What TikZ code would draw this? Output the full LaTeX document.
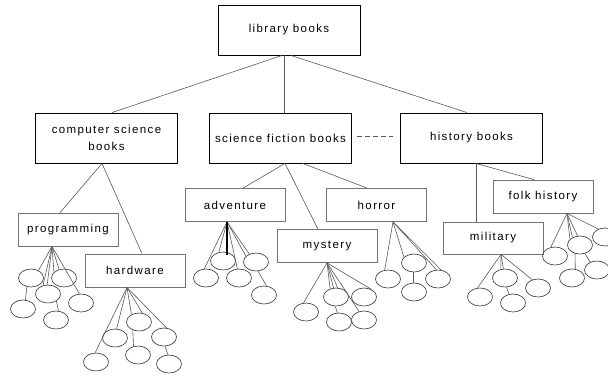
\documentclass[tikz,border=0pt]{standalone}
\usepackage{fontspec}
\setmainfont{Liberation Sans}[LetterSpace=12]
\usetikzlibrary{shapes.geometric}
\begin{document}
\begin{tikzpicture}[x=1pt,y=-1pt,
  topbox/.style={draw=black,line width=0.9pt,minimum width=142pt,minimum height=50pt,
    inner sep=0pt,align=center,font=\fontsize{11.5}{17}\selectfont},
  subbox/.style={draw=black!55,line width=0.8pt,minimum width=100pt,minimum height=33pt,
    inner sep=0pt,font=\fontsize{11.5}{14}\selectfont},
  leaf/.style={ellipse,draw=black!70,line width=0.7pt,minimum width=25pt,minimum height=18pt,inner sep=0pt},
  link/.style={draw=black!65,line width=0.6pt},
  boldlink/.style={draw=black,line width=1.4pt},
]
\useasboundingbox (0,0) rectangle (608,375);

% top level categories
\node[topbox] (lib)  at (289,30)    {library books};
\node[topbox] (cs)   at (106.5,138) {computer science\\books};
\node[topbox] (sf)   at (280.5,138) {science fiction books};
\node[topbox] (hist) at (471.5,138) {history books};

% second level categories
\node[subbox] (prog) at (68,229.5)  {programming};
\node[subbox] (hard) at (135,270.5) {hardware};
\node[subbox] (adv)  at (235,205)   {adventure};
\node[subbox] (myst) at (327,246)   {mystery};
\node[subbox] (horr) at (376.5,205) {horror};
\node[subbox,minimum height=32pt] (mil) at (493,238) {military};
\node[subbox] (folk) at (543,196.5) {folk history};

% individual books
\foreach \n/\p in {e1/{(31,278)},e2/{(64,278)},e3/{(48,294)},e4/{(81,303)},e5/{(23,309)},e6/{(56,320)},
  h1/{(115,338)},h2/{(139,322)},h3/{(164,337)},h4/{(96,362)},h5/{(138,355)},h6/{(169,364)},
  a1/{(206,278)},a2/{(223,261)},a3/{(239,278)},a4/{(256,262)},a5/{(264,295)},
  m1/{(306,312)},m2/{(336,297)},m3/{(364,297)},m4/{(339,322)},m5/{(364,320)},
  r1/{(388,279)},r2/{(414,263)},r3/{(438,279)},r4/{(414,292)},
  y1/{(480,297)},y2/{(505,278)},y3/{(538,288)},y4/{(513,303)},
  f1/{(555,256)},f2/{(580,245)},f3/{(605,237)},f4/{(572,278)},f5/{(597,270)}}
  \node[leaf] (\n) at \p {};

% attachment points on the box edges
\coordinate (lib-l) at ([xshift=-7pt]lib.south);
\coordinate (lib-m) at ([xshift=-5pt]lib.south);
\coordinate (lib-r) at ([xshift=2pt]lib.south);
\coordinate (cs-t)  at ([xshift=5.5pt]cs.north);
\coordinate (sf-t)  at ([xshift=3.5pt]sf.north);
\coordinate (hist-t) at ([xshift=-4.5pt]hist.north);
\coordinate (cs-r)  at ([xshift=-4.5pt]cs.south);
\coordinate (sf-r)  at ([xshift=4.5pt]sf.south);
\coordinate (sf-r2) at ([xshift=22.5pt]sf.south);
\coordinate (hist-r) at ([xshift=4.5pt]hist.south);
\coordinate (prog-t) at ([xshift=-8pt]prog.north);
\coordinate (hard-t) at ([xshift=7pt]hard.north);
\coordinate (adv-t)  at ([xshift=8pt]adv.north);
\coordinate (myst-t) at ([xshift=-9pt]myst.north);
\coordinate (horr-t) at ([xshift=-9.5pt]horr.north);
\coordinate (mil-t)  at ([xshift=-17pt]mil.north);
\coordinate (folk-t) at ([xshift=-9pt]folk.north);
\coordinate (prog-r) at ([xshift=-16pt]prog.south);
\coordinate (hard-r) at ([xshift=-8pt]hard.south);
\coordinate (adv-r)  at ([xshift=-8pt]adv.south);
\coordinate (myst-r) at (myst.south);
\coordinate (horr-r) at ([xshift=16.5pt]horr.south);
\coordinate (mil-r)  at ([xshift=8pt]mil.south);
\coordinate (folk-r) at ([xshift=24pt]folk.south);
\coordinate (a2-in)  at ([xshift=4pt,yshift=-3pt]a2.north);

% hierarchy links
\draw[link] (lib-l) -- (cs-t);
\draw[link] (lib-m) -- (sf-t);
\draw[link] (lib-r) -- (hist-t);
\draw[link] (cs-r) -- (prog-t);
\draw[link] (cs-r) -- (hard-t);
\draw[link] (sf-r) -- (adv-t);
\draw[link] (sf-r) -- (myst-t);
\draw[link] (sf-r2) -- (horr-t);
\draw[link] (hist-r) -- (mil-t);
\draw[link] (hist-r) -- (folk-t);
\draw[link,dashed,dash pattern=on 5pt off 3pt]
  ([xshift=5pt,yshift=2pt]sf.east) -- ([xshift=-7pt,yshift=2pt]hist.west);

% book fans
\foreach \t in {e1.45,e3.120,e3.95,e2.150,e2.120,e4.100} \draw[link] (prog-r) -- (\t);
\draw[link] (e1.-115) -- (e5.75);
\draw[link] (e3.-40) -- (e6.75);

\foreach \t in {h4.95,h1.80,h2.135,h2.70,h3.75} \draw[link] (hard-r) -- (\t);
\draw[link] (h2.-127) -- (h5.117);
\draw[link] (h3.-84) -- (h6.96);

\foreach \t in {a1.100,a2.115,a3.100,a4.150,a4.130} \draw[link] (adv-r) -- (\t);
\draw[boldlink] (adv-r) -- (a2-in);
\draw[link] (a4.-77) -- (a5.75);

\foreach \t in {m1.105,m2.125,m2.105,m2.80,m5.120,m3.45} \draw[link] (myst-r) -- (\t);
\draw[link] (m2.-95) -- (m4.100);

\foreach \t in {r1.110,r2.150,r3.100,r3.70} \draw[link] (horr-r) -- (\t);
\draw[link] (r2.-95) -- (r4.95);

\foreach \t in {y1.105,y2.115,y2.100,y3.125} \draw[link] (mil-r) -- (\t);
\draw[link] (y2.-80) -- (y4.115);

\foreach \t in {f1.115,f2.150,f2.135,f2.105,f3.130} \draw[link] (folk-r) -- (\t);
\draw[link] (f2.-120) -- (f4.70);
\draw[link] (f2.-60) -- (f5.130);
\end{tikzpicture}
\end{document}
